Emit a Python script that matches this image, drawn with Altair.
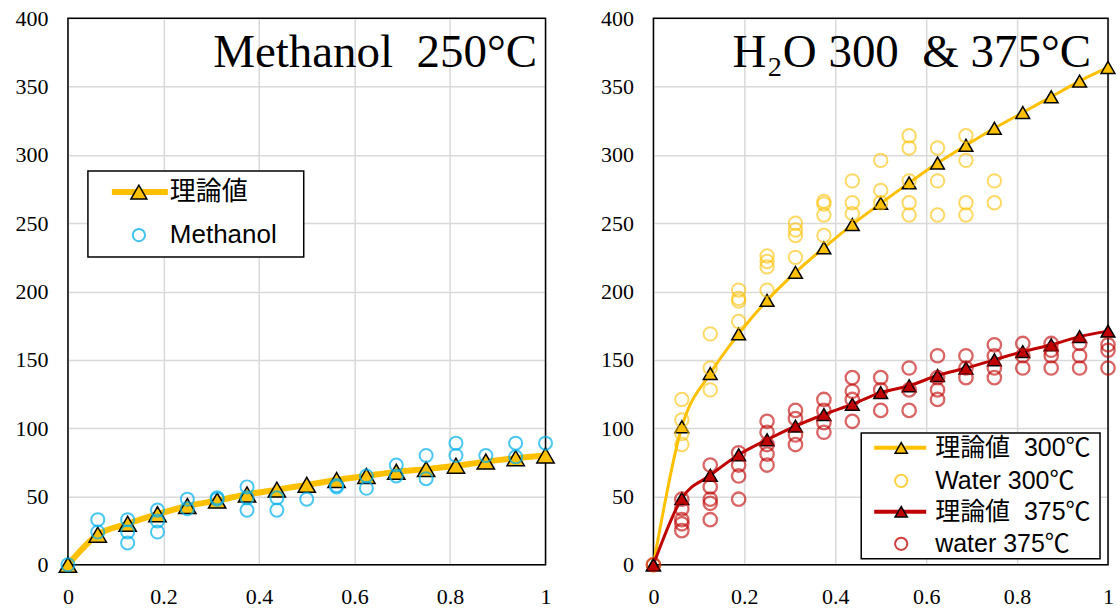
import altair as alt
import pandas as pd

# ---------------- data ----------------
X_STEPS = [0, 0.0625, 0.125, 0.1875, 0.25, 0.3125, 0.375, 0.4375, 0.5,
           0.5625, 0.625, 0.6875, 0.75, 0.8125, 0.875, 0.9375, 1]

METH_THEORY = [0, 22, 30, 37, 43, 47, 51.5, 55, 58.5, 62, 65, 68, 70, 72.5, 75.5, 78, 80]
H2O300_THEORY = [0, 101, 140, 169, 193.5, 214, 232, 249, 264.5, 279.5, 294, 307, 319.5,
                 331, 342.5, 354, 364]
H2O375_THEORY = [0, 48.5, 65.5, 80.5, 91.5, 101.5, 110, 117.5, 126, 131, 138.5, 144, 150,
                 156, 161, 167, 171]

# measured values, one list per x step
METHANOL_MEAS = [[0], [33, 24], [33, 24, 16], [40, 32, 24], [48, 41], [49, 48],
                 [57, 49, 40], [49, 40], [48], [58, 57], [65, 56], [73, 65], [80, 63],
                 [89, 80], [80], [89, 79], [89]]
WATER300_MEAS = [[0], [121, 106, 96, 88], [169, 144, 128], [201, 195, 193, 178],
                 [226, 222, 218, 201], [250, 245, 241, 225], [266, 264, 256, 241],
                 [281, 265, 257], [296, 274, 265], [314, 305, 281, 265, 256],
                 [305, 281, 256], [314, 296, 265, 256], [281, 265], [], [], [], []]
WATER375_MEAS = [[0], [48, 41, 33, 30, 25], [73, 57, 48, 45, 33], [82, 73, 65, 48],
                 [105, 97, 88, 81, 73], [113, 107, 95, 88], [121, 113, 104, 97],
                 [137, 127, 121, 105], [137, 128, 113], [144, 128, 113],
                 [153, 137, 128, 121], [153, 144, 137], [161, 153, 144, 137],
                 [162, 153, 144], [162, 157, 153, 144], [162, 153, 144], [161, 157, 144]]

X_TICKS = [0, 0.2, 0.4, 0.6, 0.8, 1]
Y_TICKS = [0, 50, 100, 150, 200, 250, 300, 350, 400]

TITLES = ["Methanol\u00a0\u00a0250°C", "H₂O 300\u00a0 & 375°C"]
LEFT_LEGEND = ["理論値", "Methanol"]
RIGHT_LEGEND = ["理論値\u00a0 300℃", "Water 300℃", "理論値\u00a0 375℃", "water 375℃"]

# ---------------- style ----------------
YELLOW = "#FFC000"
RED = "#C00000"
CYAN = "#00B0F0"
SERIF = "Liberation Serif"
SANS = "Liberation Sans, Noto Sans CJK JP, sans-serif"

LW, RW, H = 478, 455, 547


def theory_df(vals):
    return pd.DataFrame({"x": X_STEPS, "y": vals})


def meas_df(groups):
    rows = [(x, y) for x, ys in zip(X_STEPS, groups) for y in ys]
    return pd.DataFrame(rows, columns=["x", "y"])


def enc():
    return dict(
        x=alt.X("x:Q", scale=alt.Scale(domain=[0, 1], nice=False),
                axis=alt.Axis(values=X_TICKS, format="~g", title=None, labelFont=SERIF,
                              labelFontSize=22, labelPadding=39, labelBaseline="alphabetic",
                              labelFlush=False, labelColor="black", ticks=False, tickSize=0,
                              domain=False)),
        y=alt.Y("y:Q", scale=alt.Scale(domain=[0, 400], nice=False),
                axis=alt.Axis(values=Y_TICKS, title=None, labelFont=SERIF,
                              labelFontSize=22, labelPadding=20, labelColor="black",
                              labelFlush=False, ticks=False, tickSize=0, domain=False)),
    )


ONE = pd.DataFrame({"k": [0]})


def frame(w, h):
    return alt.Chart(ONE).mark_rect(fill="transparent", stroke="black", strokeWidth=1.5).encode(
        x=alt.value(0), x2=alt.value(w), y=alt.value(0), y2=alt.value(h))


def theory_layers(vals, color, lw, tri):
    df = theory_df(vals)
    line = alt.Chart(df).mark_line(color=color, strokeWidth=lw, interpolate="monotone").encode(**enc())
    pts = alt.Chart(df).mark_point(shape="triangle-up", filled=True, fill=color, stroke="black",
                                   strokeWidth=1.5, size=tri, opacity=1).encode(**enc())
    return [line, pts]


def meas_layer(groups, color, size, op, sw):
    return alt.Chart(meas_df(groups)).mark_point(shape="circle", filled=False, color=color,
                                                 strokeWidth=sw, size=size, opacity=op).encode(**enc())


def title_layer(text, xr, y):
    return alt.Chart(ONE).mark_text(font=SERIF, fontSize=47, align="right", baseline="alphabetic",
                                    color="black").encode(
        x=alt.value(xr), y=alt.value(y), text=alt.value(text))


def legend_layers(box, rows, lx0, lx1, sx, tx, fs):
    x0, y0, x1, y1 = box
    layers = [alt.Chart(ONE).mark_rect(fill="white", stroke="black", strokeWidth=1.5).encode(
        x=alt.value(x0), x2=alt.value(x1), y=alt.value(y0), y2=alt.value(y1))]
    for label, ry, kind, color, lw, ssize in rows:
        if kind == "theory":
            layers.append(alt.Chart(ONE).mark_rule(color=color, strokeWidth=lw).encode(
                x=alt.value(lx0), x2=alt.value(lx1), y=alt.value(ry)))
            layers.append(alt.Chart(ONE).mark_point(shape="triangle-up", filled=True, fill=color,
                                                    stroke="black", strokeWidth=1.5, size=ssize,
                                                    opacity=1).encode(
                x=alt.value(sx), y=alt.value(ry)))
        else:
            layers.append(alt.Chart(ONE).mark_point(shape="circle", filled=False, color=color,
                                                    strokeWidth=2, size=ssize, opacity=0.75).encode(
                x=alt.value(sx), y=alt.value(ry)))
        layers.append(alt.Chart(ONE).mark_text(font=SANS, fontSize=fs, align="left",
                                               baseline="middle", color="black").encode(
            x=alt.value(tx), y=alt.value(ry), text=alt.value(label)))
    return layers


left_layers = ([frame(LW, H)]
               + theory_layers(METH_THEORY, YELLOW, 6, 300)
               + [meas_layer(METHANOL_MEAS, CYAN, 170, 0.7, 2),
                  title_layer(TITLES[0], LW - 8.5, 49)]
               + legend_layers((20, 153, 236, 239),
                               [(LEFT_LEGEND[0], 174, "theory", YELLOW, 6, 256),
                                (LEFT_LEGEND[1], 217, "meas", CYAN, 1, 150)],
                               44, 100, 71, 102, 26))
left = alt.layer(*left_layers).properties(width=LW, height=H)

right_layers = ([frame(RW, H)]
                + theory_layers(H2O300_THEORY, YELLOW, 3, 190)
                + [meas_layer(WATER300_MEAS, YELLOW, 180, 0.6, 2)]
                + theory_layers(H2O375_THEORY, RED, 3, 190)
                + [meas_layer(WATER375_MEAS, RED, 180, 0.6, 2.3),
                   title_layer(TITLES[1], RW - 17, 49)]
                + legend_layers((RW - 247, H - 132, RW - 8, H - 6),
                                [(RIGHT_LEGEND[0], H - 117, "theory", YELLOW, 4, 150),
                                 (RIGHT_LEGEND[1], H - 84, "meas", YELLOW, 1, 150),
                                 (RIGHT_LEGEND[2], H - 53, "theory", RED, 4, 150),
                                 (RIGHT_LEGEND[3], H - 21, "meas", RED, 1, 150)],
                                RW - 234, RW - 182, RW - 207, RW - 173, 25))
right = alt.layer(*right_layers).properties(width=RW, height=H)

chart = alt.hconcat(left, right, spacing=41).properties(
    padding={"left": 14, "top": 6, "right": 0, "bottom": 0}
).configure_axis(
    labelFont=SERIF, labelFontSize=22, labelColor="black", ticks=False, tickSize=0,
    domain=False, gridColor="#d9d9d9", gridWidth=1.5
).configure_view(stroke="transparent")

chart.save("out.html", embed_options={"renderer": "svg", "actions": False})
